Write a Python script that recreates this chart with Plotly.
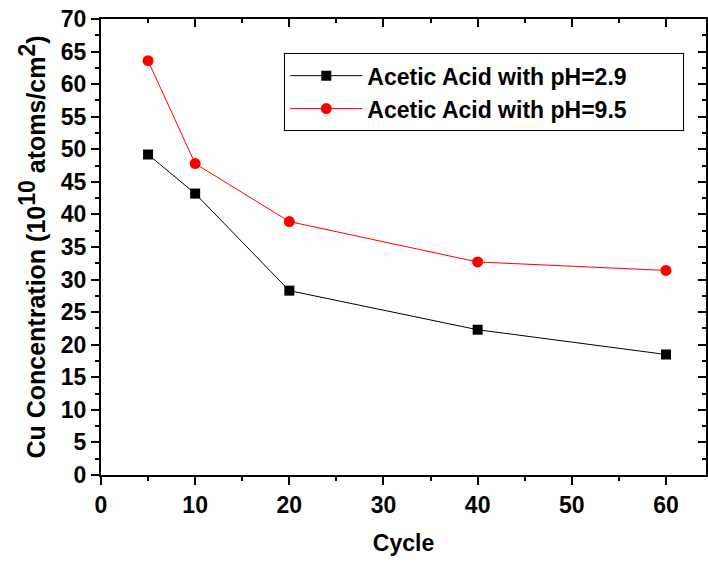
import plotly.graph_objects as go

cycles = [5, 10, 20, 40, 60]
ph29 = [49.2, 43.2, 28.3, 22.3, 18.5]
ph95 = [63.6, 47.8, 38.9, 32.7, 31.4]
name29 = "Acetic Acid with pH=2.9"
name95 = "Acetic Acid with pH=9.5"

FONT = "Liberation Sans, Arial, sans-serif"
XR = [0, 64.25]
YR = [0, 70]
PAD = "\u00a0" * 8

fig = go.Figure()
fig.add_trace(go.Scatter(x=cycles, y=ph29, mode="lines+markers", name=name29 + PAD,
                         line=dict(color="black", width=1),
                         marker=dict(symbol="square", size=10, color="black")))
fig.add_trace(go.Scatter(x=cycles, y=ph95, mode="lines+markers", name=name95 + PAD,
                         line=dict(color="red", width=1),
                         marker=dict(symbol="circle", size=11, color="red")))
fig.add_trace(go.Scatter(x=[None], y=[None], xaxis="x2", yaxis="y2", showlegend=False,
                         hoverinfo="skip"))

tickfont = dict(family=FONT, size=23, color="black", weight="bold")
titlefont = dict(family=FONT, size=23, color="black", weight="bold")
ytitlefont = dict(family=FONT, size=25, color="black", weight="bold")
fig.update_layout(
    width=708, height=563,
    margin=dict(l=101, r=2, t=19, b=88),
    paper_bgcolor="white", plot_bgcolor="white",
    showlegend=True,
    legend=dict(x=0.303, y=0.925, xanchor="left", yanchor="top",
                bordercolor="black", borderwidth=1, bgcolor="white",
                font=dict(family=FONT, size=23, color="black", weight="bold"),
                tracegroupgap=0, itemwidth=72),
    xaxis=dict(range=XR, tickvals=[0, 10, 20, 30, 40, 50, 60],
               showline=True, linecolor="black", linewidth=2,
               ticks="outside", ticklen=8, tickwidth=2, tickcolor="black",
               minor=dict(tickvals=[5, 15, 25, 35, 45, 55], ticks="outside", ticklen=4,
                          tickwidth=2, tickcolor="black", showgrid=False),
               showgrid=False, zeroline=False, tickfont=tickfont,
               title=dict(text="Cycle", font=titlefont, standoff=18)),
    yaxis=dict(range=YR, tickvals=list(range(0, 71, 5)),
               showline=True, linecolor="black", linewidth=2,
               ticks="outside", ticklen=8, tickwidth=2, tickcolor="black",
               minor=dict(tickvals=[2.5 + 5 * i for i in range(14)], ticks="outside", ticklen=4,
                          tickwidth=2, tickcolor="black", showgrid=False),
               showgrid=False, zeroline=False, tickfont=tickfont,
               title=dict(text="Cu Concentration (10<sup><span style='font-size:23px'>10</span></sup>"
                               " atoms/cm<sup><span style='font-size:23px'>2</span></sup>)",
                          font=ytitlefont, standoff=8)),
    xaxis2=dict(range=XR, overlaying="x", side="top", anchor="y2", tickvals=[0, 10, 20, 30, 40, 50, 60],
                showline=True, linecolor="black", linewidth=2,
                ticks="inside", ticklen=8, tickwidth=2, tickcolor="black",
                minor=dict(tickvals=[5, 15, 25, 35, 45, 55], ticks="inside", ticklen=4,
                           tickwidth=2, tickcolor="black", showgrid=False),
                showticklabels=False, showgrid=False, zeroline=False),
    yaxis2=dict(range=YR, overlaying="y", side="right", anchor="x2", tickvals=list(range(0, 71, 5)),
                showline=True, linecolor="black", linewidth=2,
                ticks="inside", ticklen=8, tickwidth=2, tickcolor="black",
                minor=dict(tickvals=[2.5 + 5 * i for i in range(14)], ticks="inside", ticklen=4,
                           tickwidth=2, tickcolor="black", showgrid=False),
                showticklabels=False, showgrid=False, zeroline=False),
)

fig.write_html("out.html")
